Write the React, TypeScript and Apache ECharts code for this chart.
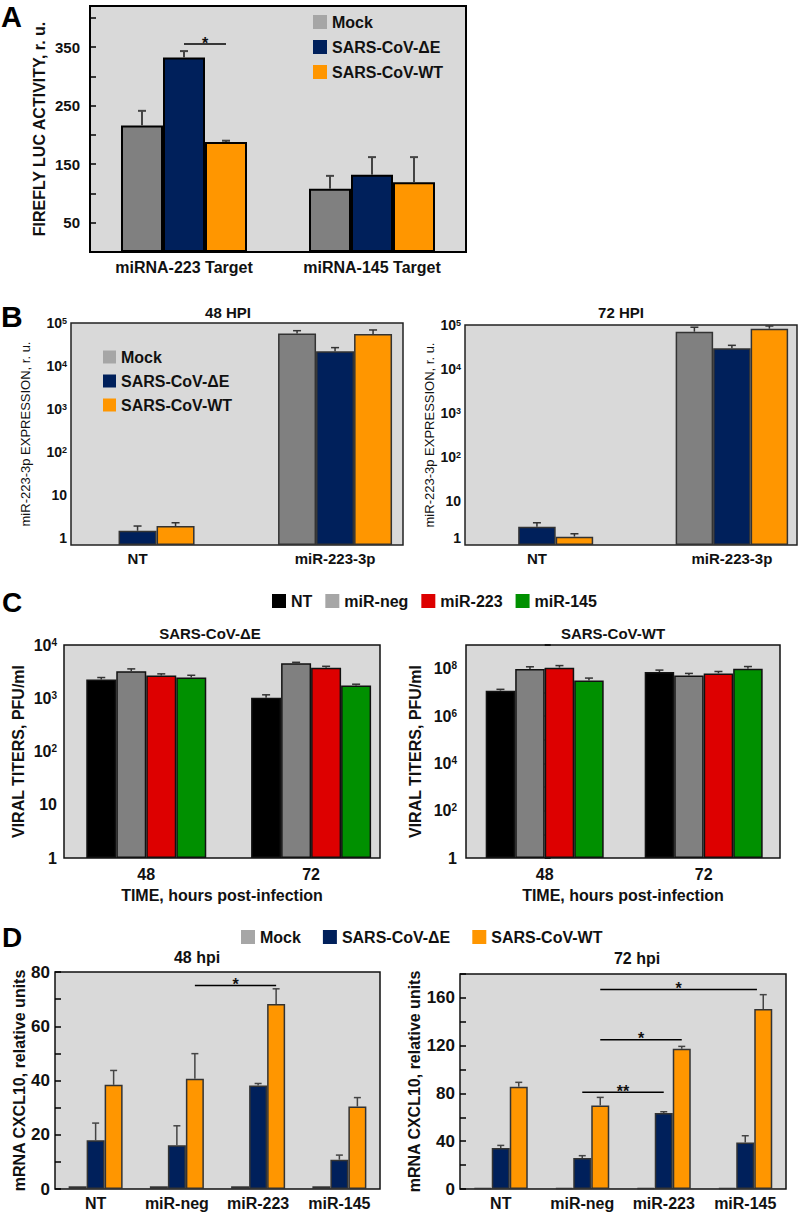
import React, { useEffect, useRef } from 'react';
import * as echarts from 'echarts';

const FONT = '"Liberation Sans", Arial, Helvetica, sans-serif';
const COL_MOCK = '#808080';
const COL_MOCK_LEG = '#a6a6a6';
const COL_DE = '#00205b';
const COL_WT = '#ff9600';
const COL_NT = '#000000';
const COL_NEG = '#808080';
const COL_223 = '#dd0000';
const COL_145 = '#009000';
const BG = '#d9d9d9';

const NAME_MOCK = 'Mock';
const NAME_DE = 'SARS-CoV-\u0394E';
const NAME_WT = 'SARS-CoV-WT';

// ---------- Panel A ----------
const A_CATS = ['miRNA-223 Target', 'miRNA-145 Target'];
const A_TICKS = [50, 150, 250, 350];
const A_MOCK = [216, 108];
const A_MOCK_ERR = [241, 130];
const A_DE = [332, 132];
const A_DE_ERR = [343, 162];
const A_WT = [188, 119];
const A_WT_ERR = [190, 162];

// ---------- Panel B ----------
const B_CATS = ['NT', 'miR-223-3p'];
const B48_MOCK = [null, 57400];
const B48_MOCK_ERR = [null, 66300];
const B48_DE = [1.5, 22000];
const B48_DE_ERR = [1.93, 26800];
const B48_WT = [1.93, 55600];
const B48_WT_ERR = [2.3, 68900];
const B72_MOCK = [null, 70500];
const B72_MOCK_ERR = [null, 89000];
const B72_DE = [2.6, 29500];
const B72_DE_ERR = [3.2, 34500];
const B72_WT = [1.55, 82400];
const B72_WT_ERR = [1.8, 95000];

// ---------- Panel C ----------
const C_CATS = ['48', '72'];
const C_NAMES = ['NT', 'miR-neg', 'miR-223', 'miR-145'];
const CDE_NT = [2245, 1020];
const CDE_NT_ERR = [2450, 1160];
const CDE_NEG = [3210, 4530];
const CDE_NEG_ERR = [3560, 4730];
const CDE_223 = [2670, 3720];
const CDE_223_ERR = [2870, 3980];
const CDE_145 = [2450, 1735];
const CDE_145_ERR = [2700, 1835];
const CWT_NT = [1.18e7, 7.2e7];
const CWT_NT_ERR = [1.34e7, 8.7e7];
const CWT_NEG = [9.6e7, 5.2e7];
const CWT_NEG_ERR = [1.2e8, 6.3e7];
const CWT_223 = [1.1e8, 6.3e7];
const CWT_223_ERR = [1.35e8, 7.6e7];
const CWT_145 = [3.2e7, 1.0e8];
const CWT_145_ERR = [4.0e7, 1.23e8];

// ---------- Panel D ----------
const D_CATS = ['NT', 'miR-neg', 'miR-223', 'miR-145'];
const D48_MOCK = [1, 1, 1, 1];
const D48_DE = [18.0, 16.1, 38.2, 10.8];
const D48_DE_ERR = [24.3, 23.3, 38.9, 12.5];
const D48_WT = [38.4, 40.6, 68.2, 30.4];
const D48_WT_ERR = [43.7, 49.9, 73.8, 33.7];
const D72_MOCK = [1, 1, 1, 1];
const D72_DE = [34.3, 26.0, 63.6, 39.0];
const D72_DE_ERR = [36.5, 27.9, 64.7, 44.6];
const D72_WT = [85.7, 70.0, 117.5, 150.7];
const D72_WT_ERR = [89.3, 76.7, 119.4, 162.7];

// significance annotations: [axis, fromCat, fromSlot, toCat, toSlot, value, label]
const SIGS: [number, number, number, number, number, number, string][] = [
  [0, 0, 1, 0, 2, 355, '*'],
  [5, 1, 2, 2, 2, 75, '*'],
  [6, 1, 2, 3, 1.65, 167, '*'],
  [6, 1, 2, 2, 2, 125, '*'],
  [6, 1, 1, 2, 1, 81, '**'],
];

type Grp = { name: string; color: string; values: (number | null)[]; errs: (number | null)[] };

const BAR_W: Record<number, number> = { 0: 42, 1: 38, 2: 37.5, 3: 30, 4: 29.5, 5: 18, 6: 18 };
const N_GRP: Record<number, number> = { 0: 3, 1: 3, 2: 3, 3: 4, 4: 4, 5: 3, 6: 3 };

function panelSeries(axis: number, groups: Grp[], valueX: boolean, border: string, borderW: number, errColor: string, capW: number, errW: number) {
  const n = groups.length;
  const bw = BAR_W[axis];
  const out: any[] = groups.map((g) => ({
    type: 'bar',
    name: g.name,
    xAxisIndex: axis,
    yAxisIndex: axis,
    barWidth: bw,
    barGap: '0%',
    z: 2,
    itemStyle: { color: g.color, borderColor: border, borderWidth: borderW },
    data: valueX
      ? g.values.map((v, i) => (v == null ? null : [i, v])).filter((d) => d !== null)
      : g.values.map((v) => (v == null ? '-' : v)),
  }));
  const errData: number[][] = [];
  groups.forEach((g, si) =>
    g.values.forEach((v, i) => {
      const e = g.errs[i];
      if (v != null && e != null) errData.push([i, si, v, e]);
    })
  );
  out.push({
    type: 'custom',
    name: 'err' + axis,
    xAxisIndex: axis,
    yAxisIndex: axis,
    z: 5,
    silent: true,
    encode: { x: 0, y: [2, 3] },
    data: errData,
    renderItem: (params: any, api: any) => {
      const x = api.value(0);
      const si = api.value(1);
      const v = api.value(2);
      const e = api.value(3);
      const p0 = api.coord([x, v]);
      const p1 = api.coord([x, e]);
      const cx = p0[0] + (si - (n - 1) / 2) * bw;
      return {
        type: 'group',
        children: [
          { type: 'line', shape: { x1: cx, y1: p0[1], x2: cx, y2: p1[1] }, style: { stroke: errColor, lineWidth: errW } },
          { type: 'line', shape: { x1: cx - capW / 2, y1: p1[1], x2: cx + capW / 2, y2: p1[1] }, style: { stroke: errColor, lineWidth: errW } },
        ],
      };
    },
  });
  return out;
}

const logLabel = (skipOdd: boolean, liftOne: boolean) => (v: number) => {
  const l = Math.log10(v);
  const n = Math.round(l);
  if (Math.abs(l - n) > 1e-6) return '';
  if (skipOdd && n % 2 !== 0) return '';
  if (n === 0) return liftOne ? '{one|1}' : '1';
  if (n === 1) return '10';
  return '10{s|' + n + '}';
};

const catLabel = (cats: string[]) => (v: number) => {
  const r = Math.round(v);
  if (Math.abs(v - r) > 1e-6) return '';
  return cats[r] !== undefined ? cats[r] : '';
};

function supRich(size: number, base: number) {
  return {
    s: { fontSize: size, fontWeight: 'bold', fontFamily: FONT, color: '#111', verticalAlign: 'top', lineHeight: base },
    one: { fontSize: base, fontWeight: 'bold', fontFamily: FONT, color: '#111', padding: [0, 0, 14, 0] },
  };
}

function buildOption(): any {
  const txt = (size: number, weight: string = 'bold') => ({ fontSize: size, fontWeight: weight, fontFamily: FONT, color: '#111' });
  const gridBase = { show: true, backgroundColor: BG, borderColor: '#111', borderWidth: 1.5 };
  const grid = [
    { ...gridBase, left: 90, top: 6, width: 376, height: 246, borderWidth: 2, borderColor: '#000' },
    { ...gridBase, left: 71, top: 323, width: 332, height: 222, borderColor: '#222' },
    { ...gridBase, left: 465, top: 325, width: 332, height: 220, borderColor: '#222' },
    { ...gridBase, left: 64, top: 645, width: 316, height: 213 },
    { ...gridBase, left: 466, top: 645, width: 314, height: 213 },
    { ...gridBase, left: 55, top: 972, width: 325, height: 217 },
    { ...gridBase, left: 460, top: 974, width: 326, height: 215 },
  ];
  const noLine = { show: false };
  const tickIn = { show: true, inside: true, length: 6, lineStyle: { color: '#000', width: 1.5 } };

  const valX = (idx: number, min: number, max: number, cats: string[], fs: number, margin: number, name?: string) => ({
    gridIndex: idx,
    type: 'value',
    min,
    max,
    axisLine: noLine,
    axisTick: { show: false },
    splitLine: { show: false },
    axisLabel: { ...txt(fs), margin, customValues: [0, 1], formatter: catLabel(cats) },
    name: name || '',
    nameLocation: 'middle',
    nameGap: 29,
    nameTextStyle: txt(16),
  });

  const xAxis = [
    { gridIndex: 0, type: 'category', data: A_CATS, axisLine: noLine, axisTick: { show: false }, axisLabel: { ...txt(16), margin: 7, interval: 0 } },
    valX(1, -0.337, 1.344, B_CATS, 15, 6),
    valX(2, -0.369, 1.334, B_CATS, 15, 6),
    valX(3, -0.499, 1.418, C_CATS, 16, 8, 'TIME, hours post-infection'),
    valX(4, -0.495, 1.48, C_CATS, 16, 8, 'TIME, hours post-infection'),
    { gridIndex: 5, type: 'category', data: D_CATS, axisLine: noLine, axisTick: { show: false }, axisLabel: { ...txt(16), margin: 6, interval: 0 } },
    { gridIndex: 6, type: 'category', data: D_CATS, axisLine: noLine, axisTick: { show: false }, axisLabel: { ...txt(16), margin: 6, interval: 0 } },
  ];

  const yName = (name: string, gap: number, size: number, weight: string = 'bold') => ({
    name,
    nameLocation: 'middle',
    nameGap: gap,
    nameTextStyle: txt(size, weight),
  });

  const yAxis = [
    {
      gridIndex: 0, type: 'value', min: 0, max: 420, interval: 50,
      axisLine: noLine, axisTick: tickIn, splitLine: { show: false },
      axisLabel: { ...txt(15), margin: 10, formatter: (v: number) => (A_TICKS.includes(v) ? String(v) : '') },
      ...yName('FIREFLY LUC ACTIVITY, r. u.', 43, 16),
    },
    {
      gridIndex: 1, type: 'log', logBase: 10, min: 0.7, max: 1e5, startValue: 0.7,
      axisLine: noLine, axisTick: { show: false }, splitLine: { show: false },
      axisLabel: { ...txt(14), margin: 4, formatter: logLabel(false, false), rich: supRich(9, 14) },
      ...yName('miR-223-3p EXPRESSION, r. u.', 39, 13, 'normal'),
    },
    {
      gridIndex: 2, type: 'log', logBase: 10, min: 1, max: 1e5,
      axisLine: noLine, axisTick: { show: false }, splitLine: { show: false },
      axisLabel: { ...txt(14), margin: 4, formatter: logLabel(false, true), rich: supRich(9, 14) },
      ...yName('miR-223-3p EXPRESSION, r. u.', 29, 13, 'normal'),
    },
    {
      gridIndex: 3, type: 'log', logBase: 10, min: 1, max: 1e4,
      axisLine: noLine, axisTick: { show: false }, splitLine: { show: false },
      axisLabel: { ...txt(16), margin: 7, formatter: logLabel(false, false), rich: supRich(10, 16) },
      ...yName('VIRAL TITERS, PFU/ml', 38, 16),
    },
    {
      gridIndex: 4, type: 'log', logBase: 10, min: 1, max: 1e9, splitNumber: 10,
      axisLine: noLine, axisTick: tickIn, splitLine: { show: false },
      axisLabel: { ...txt(16), margin: 9, formatter: logLabel(true, false), rich: supRich(10, 16) },
      ...yName('VIRAL TITERS, PFU/ml', 43, 16),
    },
    {
      gridIndex: 5, type: 'value', min: 0, max: 80, interval: 10,
      axisLine: noLine, axisTick: tickIn, splitLine: { show: false },
      axisLabel: { ...txt(17), margin: 5, formatter: (v: number) => (v % 20 === 0 ? String(v) : '') },
      ...yName('mRNA CXCL10, relative units', 28, 16),
    },
    {
      gridIndex: 6, type: 'value', min: 0, max: 180, interval: 20,
      axisLine: noLine, axisTick: tickIn, splitLine: { show: false },
      axisLabel: { ...txt(17), margin: 5, formatter: (v: number) => (v % 40 === 0 ? String(v) : '') },
      ...yName('mRNA CXCL10, relative units', 33, 16),
    },
  ];

  const g3 = (m: any[], me: any[], d: any[], de: any[], w: any[], we: any[]): Grp[] => [
    { name: NAME_MOCK, color: COL_MOCK, values: m, errs: me },
    { name: NAME_DE, color: COL_DE, values: d, errs: de },
    { name: NAME_WT, color: COL_WT, values: w, errs: we },
  ];
  const c4 = (a: number[], ae: number[], b: number[], be: number[], c: number[], ce: number[], d: number[], de: number[]): Grp[] => [
    { name: C_NAMES[0], color: COL_NT, values: a, errs: ae },
    { name: C_NAMES[1], color: COL_NEG, values: b, errs: be },
    { name: C_NAMES[2], color: COL_223, values: c, errs: ce },
    { name: C_NAMES[3], color: COL_145, values: d, errs: de },
  ];
  const nulls4 = [null, null, null, null];

  const series = [
    ...panelSeries(0, g3(A_MOCK, A_MOCK_ERR, A_DE, A_DE_ERR, A_WT, A_WT_ERR), false, '#000', 2, '#444', 8, 2),
    ...panelSeries(1, g3(B48_MOCK, B48_MOCK_ERR, B48_DE, B48_DE_ERR, B48_WT, B48_WT_ERR), true, '#333', 1.5, '#333', 8, 1.5),
    ...panelSeries(2, g3(B72_MOCK, B72_MOCK_ERR, B72_DE, B72_DE_ERR, B72_WT, B72_WT_ERR), true, '#333', 1.5, '#333', 8, 1.5),
    ...panelSeries(3, c4(CDE_NT, CDE_NT_ERR, CDE_NEG, CDE_NEG_ERR, CDE_223, CDE_223_ERR, CDE_145, CDE_145_ERR), true, '#111', 1.5, '#333', 8, 1.5),
    ...panelSeries(4, c4(CWT_NT, CWT_NT_ERR, CWT_NEG, CWT_NEG_ERR, CWT_223, CWT_223_ERR, CWT_145, CWT_145_ERR), true, '#111', 1.5, '#333', 8, 1.5),
    ...panelSeries(5, g3(D48_MOCK, nulls4, D48_DE, D48_DE_ERR, D48_WT, D48_WT_ERR), false, '#333', 1.5, '#444', 7, 1.5),
    ...panelSeries(6, g3(D72_MOCK, nulls4, D72_DE, D72_DE_ERR, D72_WT, D72_WT_ERR), false, '#333', 1.5, '#444', 7, 1.5),
  ];

  const legData3 = [
    { name: NAME_MOCK, itemStyle: { color: COL_MOCK_LEG } },
    { name: NAME_DE, itemStyle: { color: COL_DE } },
    { name: NAME_WT, itemStyle: { color: COL_WT } },
  ];
  const legBase = { padding: 0, icon: 'rect', selectedMode: false, textStyle: txt(16), itemStyle: { borderWidth: 0 } };
  const legend = [
    { ...legBase, data: legData3, orient: 'vertical', left: 313, top: 14, itemWidth: 14, itemHeight: 14, itemGap: 9 },
    { ...legBase, data: legData3, orient: 'vertical', left: 103, top: 349, itemWidth: 13, itemHeight: 13, itemGap: 8 },
    {
      ...legBase,
      data: [
        { name: C_NAMES[0], itemStyle: { color: COL_NT } },
        { name: C_NAMES[1], itemStyle: { color: COL_MOCK_LEG } },
        { name: C_NAMES[2], itemStyle: { color: COL_223 } },
        { name: C_NAMES[3], itemStyle: { color: COL_145 } },
      ],
      orient: 'horizontal', left: 272, top: 593, itemWidth: 14, itemHeight: 14, itemGap: 13,
    },
    { ...legBase, data: legData3, orient: 'horizontal', left: 241, top: 929, itemWidth: 14, itemHeight: 14, itemGap: 22 },
  ];

  return {
    animation: false,
    backgroundColor: '#ffffff',
    textStyle: { fontFamily: FONT },
    grid,
    xAxis,
    yAxis,
    legend,
    series,
  };
}

function buildGraphics(chart: any): any[] {
  const t = (text: string, x: number, y: number, size: number) => ({
    type: 'text',
    x,
    y,
    silent: true,
    style: { text, fontSize: size, fontWeight: 'bold', fontFamily: FONT, fill: '#111', align: 'center', verticalAlign: 'middle' },
  });
  const letter = (text: string, x: number, y: number, size: number) => ({
    type: 'text', x, y, silent: true,
    style: { text, fontSize: size, fontWeight: 'bold', fontFamily: FONT, fill: '#000', align: 'left', verticalAlign: 'middle' },
  });
  const els: any[] = [
    letter('A', 1, 17, 29),
    letter('B', 1, 316, 30),
    letter('C', 2, 602, 28),
    letter('D', 2, 937, 28),
    t('48 HPI', 228, 312, 15),
    t('72 HPI', 621, 312, 15),
    t('SARS-CoV-\u0394E', 210, 633, 15),
    t('SARS-CoV-WT', 613, 633, 15),
    t('48 hpi', 197, 957, 16),
    t('72 hpi', 637, 958, 16),
  ];
  SIGS.forEach(([axis, c1, s1, c2, s2, val, label]) => {
    const bw = BAR_W[axis];
    const n = N_GRP[axis];
    const p1 = chart.convertToPixel({ xAxisIndex: axis, yAxisIndex: axis }, [c1, val]);
    const p2 = chart.convertToPixel({ xAxisIndex: axis, yAxisIndex: axis }, [c2, val]);
    if (!p1 || !p2) return;
    const x1 = p1[0] + (s1 - (n - 1) / 2) * bw;
    const x2 = p2[0] + (s2 - (n - 1) / 2) * bw;
    const y = p1[1];
    els.push({ type: 'line', silent: true, shape: { x1, y1: y, x2, y2: y }, style: { stroke: '#000', lineWidth: 1.5 } });
    els.push(t(label, (x1 + x2) / 2, y - 1, 16));
  });
  return els;
}

export default function App() {
  const ref = useRef<HTMLDivElement>(null);
  useEffect(() => {
    if (!ref.current) return;
    const chart = echarts.init(ref.current, null, { renderer: 'svg' });
    chart.setOption(buildOption());
    chart.setOption({ graphic: buildGraphics(chart) });
    return () => chart.dispose();
  }, []);
  return <div ref={ref} style={{ position: 'absolute', left: 0, top: 0, width: 800, height: 1215, background: '#fff' }} />;
}
